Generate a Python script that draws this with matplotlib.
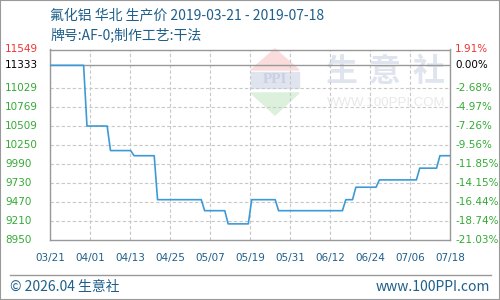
import matplotlib
matplotlib.use("Agg")
import matplotlib.pyplot as plt
import matplotlib.transforms as mtransforms
from matplotlib.patches import Polygon, Rectangle
from matplotlib.lines import Line2D
import numpy as np
import pandas as pd

plt.rcParams['font.family'] = ['DejaVu Sans', 'Noto Sans CJK SC']

# price change points (vertices of the polyline)
dates = ["2019-03-21", "2019-03-31", "2019-04-01", "2019-04-07", "2019-04-08",
         "2019-04-14", "2019-04-15", "2019-04-21", "2019-04-22", "2019-05-05",
         "2019-05-06", "2019-05-12", "2019-05-13", "2019-05-19", "2019-05-20",
         "2019-05-27", "2019-05-28", "2019-06-16", "2019-06-17", "2019-06-19",
         "2019-06-20", "2019-06-26", "2019-06-27", "2019-07-08", "2019-07-09",
         "2019-07-14", "2019-07-15", "2019-07-18"]
prices = [11333, 11333, 10505, 10505, 10170, 10170, 10100, 10100, 9500, 9500,
          9350, 9350, 9170, 9170, 9500, 9500, 9350, 9350, 9500, 9500,
          9670, 9670, 9770, 9770, 9930, 9930, 10100, 10100]

base_price = 11333
y_ticks = [8950, 9210, 9470, 9730, 9990, 10250, 10509, 10769, 11029, 11333, 11549]
pct_labels = ["-21.03%", "-18.74%", "-16.44%", "-14.15%", "-11.85%", "-9.56%",
              "-7.26%", "-4.97%", "-2.68%", "0.00%", "1.91%"]
x_labels = ["03/21", "04/01", "04/13", "04/25", "05/07", "05/19",
            "05/31", "06/12", "06/24", "07/06", "07/18"]

d = pd.to_datetime(dates)
days = (d - d[0]).days.values
total_days = days[-1]

fig = plt.figure(figsize=(5, 3), dpi=100)
ax = fig.add_axes([0.1, 0.2, 0.8, 0.635])

blue = '#1f5f8b'
green = '#33aa33'
red = '#ee3333'
cjk = ['Noto Sans CJK SC', 'DejaVu Sans']

# watermark
wm_col = '#dfe4ee'
for ch, xp in zip("生意社", [341, 385, 429]):
    fig.text(xp / 500, 1 - 72 / 300, ch, fontsize=23, color=wm_col, ha='center',
             va='center', family=cjk, weight='bold', zorder=0.2)
fig.text(386 / 500, 1 - 103 / 300, "WWW.100PPI.COM", fontsize=9.5, color='#e8e8e8',
         ha='center', va='center', family=['Liberation Sans'], zorder=0.2)

def px(x, y):
    return (x / 500, 1 - y / 300)

logo = [
    Polygon([px(275, 49), px(251, 70), px(299, 70)], closed=True, color='#fbdcdc'),
    Rectangle(px(251, 88), 48 / 500, 16 / 300, color='#dfe4ee'),
    Polygon([px(251, 93), px(299, 93), px(275, 115)], closed=True, color='#dcf0dc'),
]
for p in logo:
    p.set_transform(fig.transFigure)
    p.set_zorder(0.2)
    fig.add_artist(p)
fig.text(275 / 500, 1 - 80 / 300, "PPI", fontsize=11, color='#c9d0e2', ha='center',
         va='center', family=['Liberation Serif'], weight='bold', zorder=0.21)

ax.patch.set_alpha(0)
ax.set_zorder(1)

ax.plot(days, prices, color='#3d9ad6', lw=1.2, zorder=3)
ax.axhline(base_price, color='#999999', lw=1, zorder=2)

ax.set_xlim(0, total_days)
ax.set_ylim(y_ticks[0], y_ticks[-1])

xt = np.linspace(0, total_days, len(x_labels))
ax.set_xticks(xt)
ax.set_xticklabels(x_labels, fontsize=7.5, color=blue)
ax.tick_params(axis='x', length=0, pad=9)
ax.set_yticks(y_ticks[1:-2])
ax.set_yticklabels([])
ax.tick_params(axis='y', length=0)
ax.grid(True, color='#c8c8c8', linestyle=(0, (3, 2)), lw=0.8)
ax.set_axisbelow(True)

for s in ax.spines.values():
    s.set_color('#999999')
    s.set_linewidth(1)

trans_l = mtransforms.blended_transform_factory(fig.transFigure, ax.transData)
for v, lab in zip(y_ticks, pct_labels):
    if v == y_ticks[-1]:
        c = red
    elif v == base_price:
        c = 'black'
    else:
        c = green
    fig.text(5 / 500, v, str(v), transform=trans_l, fontsize=7.5, color=c,
             ha='left', va='center')
    fig.text(455 / 500, v, lab, transform=trans_l, fontsize=7.5, color=c,
             ha='left', va='center')

# titles
fig.text(50 / 500, 1 - 15 / 300, "氟化铝 华北 生产价 2019-03-21 - 2019-07-18",
         fontsize=10, color=blue, ha='left', va='center', family=cjk)
fig.text(50 / 500, 1 - 35 / 300, "牌号:AF-0;制作工艺:干法",
         fontsize=10, color=blue, ha='left', va='center', family=cjk)

# footer
fig.add_artist(Line2D([10 / 500, 491 / 500], [1 - 275 / 300] * 2, color='#999999',
                      lw=1, transform=fig.transFigure))
fig.text(10 / 500, 1 - 287 / 300, "© 2026.04 生意社", fontsize=10, color=blue,
         ha='left', va='center', family=cjk)
fig.text(490 / 500, 1 - 287 / 300, "www.100PPI.com", fontsize=10, color=blue,
         ha='right', va='center', family=cjk)

fig.add_artist(Rectangle((0, 0), 1, 1, fill=False, edgecolor='#999999', lw=1.5,
                         transform=fig.transFigure))

fig.savefig("out.png", dpi=100, facecolor='white')
